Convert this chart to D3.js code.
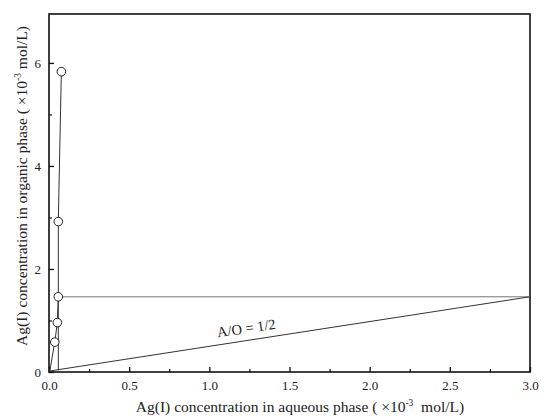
<!DOCTYPE html>
<html><head><meta charset="utf-8">
<script src="https://cdn.jsdelivr.net/npm/d3@7"></script>
<style>body{margin:0;background:#fff}svg{display:block}text{font-family:"Liberation Serif","Times New Roman",serif;fill:#222}</style>
</head><body>
<svg id="c" width="550" height="419"></svg>
<script>
const eqX = [0.005, 0.036, 0.052, 0.058, 0.058, 0.077];
const eqY = [0.02, 0.58, 0.96, 1.46, 2.92, 5.83];
const markerIdx = [1, 2, 3, 4, 5];
const opX = [0.005, 3.0];
const opY = [0.02, 1.46];
const horizX = [0.058, 3.0];
const horizY = [1.46, 1.46];
const vertX = [0.058, 0.058];
const vertY = [0.03, 1.46];
const xTicks = [0, 0.5, 1.0, 1.5, 2.0, 2.5, 3.0];
const xMinor = [0.25, 0.75, 1.25, 1.75, 2.25, 2.75];
const yTicks = [0, 2, 4, 6];
const yMinor = [1, 3, 5];

const svg = d3.select("#c");
const m = {l: 49, r: 530, t: 14, b: 372};
const x = d3.scaleLinear().domain([0, 3]).range([m.l, m.r]);
const y = d3.scaleLinear().domain([0, 6.95]).range([m.b, m.t]);

svg.append("rect").attr("x", m.l).attr("y", m.t).attr("width", m.r - m.l).attr("height", m.b - m.t)
  .attr("fill", "none").attr("stroke", "#111").attr("stroke-width", 1.6);

const xa = svg.append("g").attr("transform", `translate(0,${m.b})`)
  .call(d3.axisBottom(x).tickValues(xTicks).tickSizeInner(-5).tickSizeOuter(0).tickPadding(9).tickFormat(d3.format(".1f")));
xa.select(".domain").remove();
xa.selectAll("line").attr("stroke", "#111").attr("stroke-width", 1.3);
xa.selectAll("text").attr("font-size", 13).attr("font-family", "Liberation Serif").attr("fill", "#222");
const xm = svg.append("g").attr("transform", `translate(0,${m.b})`)
  .call(d3.axisBottom(x).tickValues(xMinor).tickSizeInner(-3).tickSizeOuter(0).tickFormat(""));
xm.select(".domain").remove();
xm.selectAll("line").attr("stroke", "#111").attr("stroke-width", 1.2);

const ya = svg.append("g").attr("transform", `translate(${m.l},0)`)
  .call(d3.axisLeft(y).tickValues(yTicks).tickSizeInner(-5).tickSizeOuter(0).tickPadding(8).tickFormat(d3.format("d")));
ya.select(".domain").remove();
ya.selectAll("line").attr("stroke", "#111").attr("stroke-width", 1.3);
ya.selectAll("text").attr("font-size", 13).attr("font-family", "Liberation Serif").attr("fill", "#222");
const ym = svg.append("g").attr("transform", `translate(${m.l},0)`)
  .call(d3.axisLeft(y).tickValues(yMinor).tickSizeInner(-3).tickSizeOuter(0).tickFormat(""));
ym.select(".domain").remove();
ym.selectAll("line").attr("stroke", "#111").attr("stroke-width", 1.2);

const line = d3.line().x(d => x(d[0])).y(d => y(d[1]));
const zip = (a, b) => a.map((v, i) => [v, b[i]]);

svg.append("path").datum(zip(horizX, horizY)).attr("d", line).attr("fill", "none").attr("stroke", "#777").attr("stroke-width", 1);
svg.append("path").datum(zip(opX, opY)).attr("d", line).attr("fill", "none").attr("stroke", "#333").attr("stroke-width", 1);
svg.append("path").datum(zip(vertX, vertY)).attr("d", line).attr("fill", "none").attr("stroke", "#333").attr("stroke-width", 1);
svg.append("path").datum(zip(eqX, eqY)).attr("d", line).attr("fill", "none").attr("stroke", "#333").attr("stroke-width", 1);

svg.selectAll("circle.pt").data(markerIdx).enter().append("circle").attr("class", "pt")
  .attr("cx", i => x(eqX[i])).attr("cy", i => y(eqY[i])).attr("r", 4.3)
  .attr("fill", "#fff").attr("stroke", "#222").attr("stroke-width", 1);

const lx = 247, ly = 333;
svg.append("text").attr("transform", `translate(${lx},${ly}) rotate(-8.5)`).attr("text-anchor", "middle")
  .attr("font-size", 14.5).text("A/O = 1/2");

const xt = svg.append("text").attr("x", 300).attr("y", 412).attr("text-anchor", "middle").attr("font-size", 15.5);
xt.append("tspan").text("Ag(I) concentration in aqueous phase ( \u00d710");
xt.append("tspan").attr("font-size", 9.5).attr("dy", -6).text("-3");
xt.append("tspan").attr("dy", 6).text("\u00a0\u00a0mol/L)");

const yt = svg.append("text").attr("transform", "translate(27,186) rotate(-90)").attr("text-anchor", "middle").attr("font-size", 15.5);
yt.append("tspan").text("Ag(I) concentration in organic phase ( \u00d710");
yt.append("tspan").attr("font-size", 9.5).attr("dy", -6).text("-3");
yt.append("tspan").attr("dy", 6).text("\u00a0mol/L)");
</script>
</body></html>
